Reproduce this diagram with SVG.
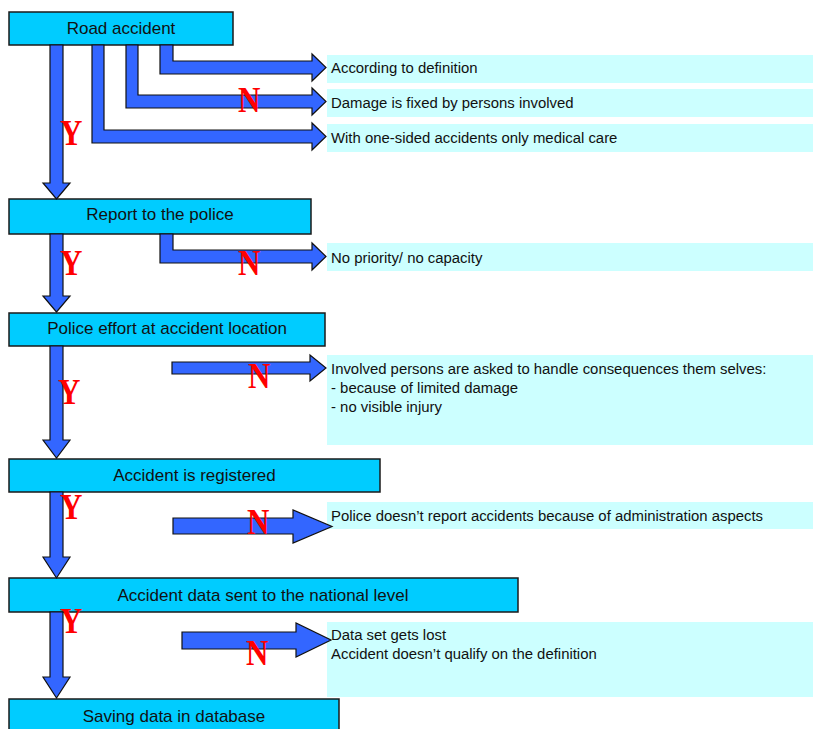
<svg xmlns="http://www.w3.org/2000/svg" width="813" height="729" viewBox="0 0 813 729">
<style>
.box{fill:#00CCFF;stroke:#1a1a1a;stroke-width:1.5}
.note{fill:#CCFFFF;stroke:none}
.bt{font-family:"Liberation Sans",Arial,sans-serif;font-size:17px;fill:#111;text-anchor:middle}
.nt{font-family:"Liberation Sans",Arial,sans-serif;font-size:14.9px;fill:#111}
.arr{fill:#3366FF;stroke:#111;stroke-width:1.2;stroke-linejoin:miter}
.lbl{font-family:"Liberation Serif","Times New Roman",serif;font-weight:bold;font-size:31px;fill:#FF0000}
</style>
<rect width="813" height="729" fill="#fff"/>
<g id="note-definition"><rect class="note" x="327" y="55" width="486" height="28"/><text class="nt" x="331" y="73">According to definition</text></g>
<g id="note-damage"><rect class="note" x="327" y="89" width="486" height="28"/><text class="nt" x="331" y="108">Damage is fixed by persons involved</text></g>
<g id="note-onesided"><rect class="note" x="327" y="124" width="486" height="28"/><text class="nt" x="331" y="143">With one-sided accidents only medical care</text></g>
<g id="note-priority"><rect class="note" x="327" y="243" width="486" height="28"/><text class="nt" x="331" y="263">No priority/ no capacity</text></g>
<g id="note-involved"><rect class="note" x="327" y="355" width="486" height="90"/><text class="nt" x="331" y="374">Involved persons are asked to handle consequences them selves:</text><text class="nt" x="331" y="393">- because of limited damage</text><text class="nt" x="331" y="412">- no visible injury</text></g>
<g id="note-admin"><rect class="note" x="327" y="502" width="486" height="27"/><text class="nt" x="331" y="521">Police doesn’t report accidents because of administration aspects</text></g>
<g id="note-lost"><rect class="note" x="327" y="622" width="486" height="75"/><text class="nt" x="331" y="640">Data set gets lost</text><text class="nt" x="331" y="659">Accident doesn’t qualify on the definition</text></g>
<g id="node-road"><rect class="box" x="9" y="12" width="224" height="33"/><text class="bt" x="121" y="34">Road accident</text></g>
<g id="node-report"><rect class="box" x="9" y="199" width="302" height="35"/><text class="bt" x="160" y="220">Report to the police</text></g>
<g id="node-effort"><rect class="box" x="9" y="313" width="316" height="33"/><text class="bt" x="167" y="334">Police effort at accident location</text></g>
<g id="node-registered"><rect class="box" x="9" y="459" width="371" height="33"/><text class="bt" x="194.5" y="481">Accident is registered</text></g>
<g id="node-national"><rect class="box" x="9" y="578" width="509" height="34"/><text class="bt" x="263" y="601">Accident data sent to the national level</text></g>
<g id="node-saving"><rect class="box" x="9" y="699" width="330" height="35"/><text class="bt" x="174" y="722">Saving data in database</text></g>
<g id="connectors">
<polygon class="arr" points="50,45 63,45 63,183 70,183 56.5,199 43,183 50,183"/>
<polygon class="arr" points="50,234 63,234 63,296 70,296 56.5,312 43,296 50,296"/>
<polygon class="arr" points="50,346 63,346 63,440 70,440 56.5,458 43,440 50,440"/>
<polygon class="arr" points="50,492 63,492 63,557 70,557 56.5,578 43,557 50,557"/>
<polygon class="arr" points="50,612 63,612 63,677 70,677 56.5,698 43,677 50,677"/>
<polygon class="arr" points="92,45 104,45 104,130 312,130 312,123 326,136.5 312,150 312,143 92,143"/>
<polygon class="arr" points="126,45 138,45 138,95 312,95 312,88 326,101.5 312,115 312,108 126,108"/>
<polygon class="arr" points="160,45 173,45 173,61 312,61 312,54 326,67.5 312,81 312,74 160,74"/>
<polygon class="arr" points="160,234 173,234 173,250 312,250 312,243 326,256.5 312,270 312,263 160,263"/>
<polygon class="arr" points="172,362 310,362 310,355 326,368 310,381 310,374 172,374"/>
<polygon class="arr" points="173,518 293,518 293,510 332,526.5 293,543 293,534 173,534"/>
<polygon class="arr" points="182,632 296,632 296,623 331,640 296,657 296,649 182,649"/>
<g transform="translate(60,145) scale(1,1.15)"><text class="lbl" x="0" y="0">Y</text></g>
<g transform="translate(60,275) scale(1,1.15)"><text class="lbl" x="0" y="0">Y</text></g>
<g transform="translate(58,404) scale(1,1.15)"><text class="lbl" x="0" y="0">Y</text></g>
<g transform="translate(60,519) scale(1,1.15)"><text class="lbl" x="0" y="0">Y</text></g>
<g transform="translate(60,633) scale(1,1.15)"><text class="lbl" x="0" y="0">Y</text></g>
<g transform="translate(238,112) scale(1,1.15)"><text class="lbl" x="0" y="0">N</text></g>
<g transform="translate(238,275) scale(1,1.15)"><text class="lbl" x="0" y="0">N</text></g>
<g transform="translate(248,388) scale(1,1.15)"><text class="lbl" x="0" y="0">N</text></g>
<g transform="translate(247,534) scale(1,1.15)"><text class="lbl" x="0" y="0">N</text></g>
<g transform="translate(246,665) scale(1,1.15)"><text class="lbl" x="0" y="0">N</text></g>
</g>
</svg>
